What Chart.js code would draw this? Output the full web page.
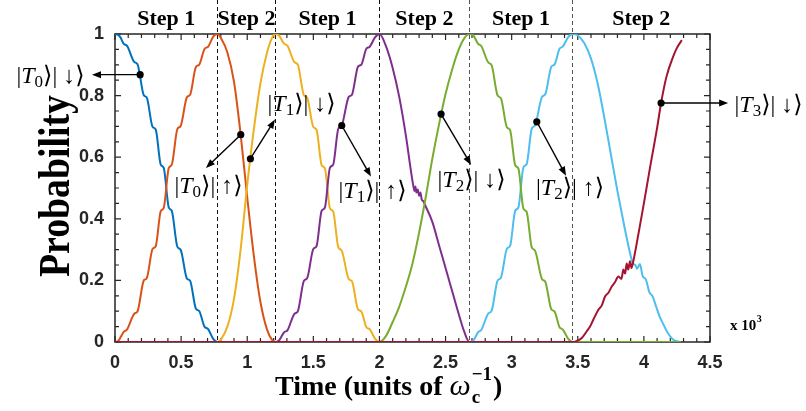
<!DOCTYPE html>
<html lang="en">
  <head>
    <meta charset="UTF-8" />
    <title>Probability vs time</title>
    <script src="https://cdn.jsdelivr.net/npm/chart.js"></script>
    <style>
      body { margin: 0; background: #fff; }
      #wrap { width: 806px; height: 411px; }
    </style>
  </head>
  <body>
    <div id="wrap"><canvas id="probChart" width="806" height="411"></canvas></div>

    <script>
      // step boundaries (x10^3 units of 1/omega_c) and their names
      var stepBounds = [0, 0.775, 1.213, 2.0, 2.68, 3.46, 4.5];
      var stepNames = ["Step 1", "Step 2", "Step 1", "Step 2", "Step 1", "Step 2"];

      // |T0>|down>
      var blueX = [0, 0.02, 0.04, 0.066, 0.09, 0.146, 0.17, 0.218, 0.24, 0.284, 0.308, 0.346, 0.368, 0.407, 0.429, 0.472, 0.496, 0.544, 0.568, 0.612, 0.636, 0.678, 0.702, 0.744, 0.775, 4.275];
      var blueY = [1.0, 0.998, 0.99, 0.968, 0.962, 0.909, 0.902, 0.801, 0.794, 0.699, 0.69, 0.576, 0.566, 0.436, 0.426, 0.309, 0.3, 0.206, 0.199, 0.108, 0.101, 0.049, 0.043, 0.009, 0.0, 0.0];

      // |T0>|up>
      var orangeX = [0, 0.025, 0.066, 0.09, 0.146, 0.17, 0.218, 0.24, 0.284, 0.308, 0.346, 0.368, 0.407, 0.429, 0.472, 0.496, 0.544, 0.568, 0.612, 0.636, 0.678, 0.702, 0.744, 0.775, 0.8, 0.85, 0.9, 0.95, 1.0, 1.05, 1.1, 1.15, 1.19, 1.213, 4.275];
      var orangeY = [0, 0.004, 0.033, 0.04, 0.092, 0.099, 0.2, 0.207, 0.302, 0.311, 0.425, 0.435, 0.565, 0.575, 0.692, 0.701, 0.795, 0.803, 0.893, 0.9, 0.952, 0.958, 0.992, 1.0, 0.988, 0.94, 0.845, 0.675, 0.47, 0.28, 0.13, 0.04, 0.005, 0, 0];

      // |T1>|down>
      var yellowX = [0, 0.775, 0.8, 0.85, 0.9, 0.95, 1.0, 1.05, 1.1, 1.15, 1.19, 1.213, 1.24, 1.28, 1.304, 1.358, 1.382, 1.429, 1.453, 1.5, 1.524, 1.563, 1.587, 1.626, 1.65, 1.689, 1.713, 1.768, 1.792, 1.838, 1.862, 1.901, 1.925, 1.968, 2.0, 4.275];
      var yellowY = [0, 0, 0.008, 0.05, 0.14, 0.3, 0.51, 0.69, 0.84, 0.94, 0.99, 1.0, 0.995, 0.968, 0.962, 0.908, 0.901, 0.801, 0.793, 0.698, 0.689, 0.574, 0.564, 0.434, 0.424, 0.307, 0.298, 0.204, 0.197, 0.106, 0.1, 0.048, 0.042, 0.01, 0, 0];

      // |T1>|up>
      var purpleX = [0, 1.213, 1.24, 1.28, 1.304, 1.358, 1.382, 1.429, 1.453, 1.5, 1.524, 1.563, 1.587, 1.626, 1.65, 1.689, 1.713, 1.768, 1.792, 1.838, 1.862, 1.901, 1.925, 1.968, 2.0, 2.05, 2.1, 2.15, 2.2, 2.24, 2.257, 2.265, 2.272, 2.28, 2.29, 2.3, 2.31, 2.32, 2.33, 2.35, 2.4, 2.45, 2.48, 2.52, 2.56, 2.6, 2.64, 2.68, 4.275];
      var purpleY = [0, 0, 0.005, 0.032, 0.038, 0.092, 0.099, 0.199, 0.207, 0.302, 0.311, 0.426, 0.436, 0.566, 0.576, 0.693, 0.702, 0.796, 0.803, 0.894, 0.9, 0.952, 0.958, 0.99, 1.0, 0.96, 0.89, 0.795, 0.67, 0.55, 0.505, 0.49, 0.505, 0.485, 0.495, 0.475, 0.485, 0.462, 0.458, 0.44, 0.39, 0.315, 0.27, 0.21, 0.15, 0.09, 0.035, 0, 0];

      // |T2>|down>
      var greenX = [0, 2.0, 2.05, 2.1, 2.15, 2.2, 2.25, 2.3, 2.35, 2.4, 2.45, 2.5, 2.55, 2.6, 2.64, 2.68, 2.71, 2.746, 2.77, 2.824, 2.848, 2.894, 2.918, 2.964, 2.988, 3.027, 3.051, 3.089, 3.113, 3.152, 3.176, 3.23, 3.254, 3.3, 3.324, 3.362, 3.386, 3.428, 3.46, 4.275];
      var greenY = [0, 0, 0.02, 0.065, 0.115, 0.18, 0.255, 0.355, 0.47, 0.595, 0.705, 0.805, 0.885, 0.95, 0.985, 1.0, 0.995, 0.968, 0.961, 0.907, 0.899, 0.8, 0.792, 0.697, 0.688, 0.574, 0.563, 0.433, 0.423, 0.307, 0.297, 0.204, 0.196, 0.106, 0.099, 0.048, 0.041, 0.01, 0, 0];

      // |T2>|up>
      var lblueX = [0, 2.68, 2.71, 2.746, 2.77, 2.824, 2.848, 2.894, 2.918, 2.964, 2.988, 3.027, 3.051, 3.089, 3.113, 3.152, 3.176, 3.23, 3.254, 3.3, 3.324, 3.362, 3.386, 3.428, 3.46, 3.5, 3.55, 3.6, 3.65, 3.7, 3.75, 3.8, 3.85, 3.9, 3.918, 3.935, 3.948, 3.97, 3.99, 4.016, 4.041, 4.066, 4.092, 4.117, 4.142, 4.18, 4.22, 4.275];
      var lblueY = [0, 0, 0.005, 0.032, 0.039, 0.093, 0.101, 0.2, 0.208, 0.303, 0.312, 0.426, 0.437, 0.567, 0.577, 0.693, 0.703, 0.796, 0.804, 0.894, 0.901, 0.952, 0.959, 0.99, 1.0, 0.995, 0.97, 0.92, 0.84, 0.73, 0.61, 0.49, 0.38, 0.28, 0.255, 0.25, 0.238, 0.253, 0.215, 0.202, 0.162, 0.148, 0.116, 0.085, 0.062, 0.03, 0.008, 0];

      // |T3>|down>
      var redX = [0, 3.46, 3.49, 3.53, 3.568, 3.593, 3.618, 3.656, 3.681, 3.706, 3.732, 3.757, 3.782, 3.807, 3.83, 3.845, 3.858, 3.87, 3.882, 3.895, 3.906, 3.918, 3.95, 4.0, 4.05, 4.1, 4.13, 4.17, 4.22, 4.25, 4.287];
      var redY = [0, 0, 0.003, 0.013, 0.035, 0.05, 0.073, 0.105, 0.118, 0.148, 0.16, 0.18, 0.195, 0.213, 0.205, 0.235, 0.222, 0.255, 0.235, 0.262, 0.24, 0.258, 0.33, 0.45, 0.575, 0.695, 0.776, 0.86, 0.925, 0.955, 0.98];

      // state labels: dot on the curve, arrow tip, text centre/baseline (data coords)
      var notes = [
        { sub: "0", arrow: "\u2193", dot: [0.19, 0.868], tip: [-0.174, 0.868], text: [-0.488, 0.841] },
        { sub: "0", arrow: "\u2191", dot: [0.951, 0.673], tip: [0.688, 0.565], text: [0.707, 0.485] },
        { sub: "1", arrow: "\u2193", dot: [1.024, 0.595], tip: [1.21, 0.722], text: [1.411, 0.751] },
        { sub: "1", arrow: "\u2191", dot: [1.715, 0.703], tip: [1.936, 0.537], text: [1.948, 0.468] },
        { sub: "2", arrow: "\u2193", dot: [2.466, 0.74], tip: [2.693, 0.575], text: [2.697, 0.504] },
        { sub: "2", arrow: "\u2191", dot: [3.19, 0.715], tip: [3.411, 0.54], text: [3.442, 0.478] },
        { sub: "3", arrow: "\u2193", dot: [4.13, 0.776], tip: [4.637, 0.776], text: [4.943, 0.747] },
      ];

      var AXIS = "#262626";
      var SERIF = "'Liberation Serif', 'DejaVu Serif', serif";

      function pts(xs, ys) {
        return xs.map((x, i) => ({ x: x, y: ys[i] }));
      }

      function curve(label, xs, ys, color, order) {
        return {
          label: label,
          data: pts(xs, ys),
          borderColor: color,
          backgroundColor: color,
          borderWidth: 2,
          showLine: true,
          pointRadius: 0,
          cubicInterpolationMode: "monotone",
          order: order,
        };
      }

      function drawKet(ctx, cx, by, sub, arrow) {
        var big = "24px " + SERIF;
        var parts = [
          { t: "|", f: big, dy: 0 },
          { t: "T", f: "italic 24px " + SERIF, dy: 0 },
          { t: sub, f: "17px " + SERIF, dy: 4 },
          { t: "\u27E9| ", f: big, dy: 0 },
          { t: arrow, f: big, dy: 0 },
          { t: "\u27E9", f: big, dy: 0 },
        ];
        var total = 0;
        parts.forEach((p) => {
          ctx.font = p.f;
          p.w = ctx.measureText(p.t).width;
          total += p.w;
        });
        var x = cx - total / 2;
        ctx.textAlign = "left";
        ctx.textBaseline = "alphabetic";
        parts.forEach((p) => {
          ctx.font = p.f;
          ctx.fillText(p.t, x, by + p.dy);
          x += p.w;
        });
      }

      var overlay = {
        id: "overlay",
        beforeDatasetsDraw(chart) {
          var ctx = chart.ctx;
          var a = chart.chartArea;
          var xs = chart.scales.x;
          var ys = chart.scales.y;
          ctx.save();

          // step boundaries
          ctx.lineWidth = 1;
          ctx.setLineDash([4, 3]);
          for (var i = 1; i < stepBounds.length - 1; i++) {
            var px = Math.round(xs.getPixelForValue(stepBounds[i])) + 0.5;
            ctx.strokeStyle = i < 4 ? "#111" : "#555";
            ctx.beginPath();
            ctx.moveTo(px, 0);
            ctx.lineTo(px, a.bottom);
            ctx.stroke();
          }
          ctx.setLineDash([]);

          // box
          ctx.strokeStyle = AXIS;
          ctx.lineWidth = 1.5;
          ctx.strokeRect(a.left, a.top, a.right - a.left, a.bottom - a.top);

          // inward ticks
          ctx.lineWidth = 1.2;
          ctx.beginPath();
          for (var k = 0; k <= 45; k++) {
            var tx = xs.getPixelForValue(k / 10);
            var len = k % 5 === 0 ? 6 : 4;
            ctx.moveTo(tx, a.bottom);
            ctx.lineTo(tx, a.bottom - len);
            ctx.moveTo(tx, a.top);
            ctx.lineTo(tx, a.top + len);
          }
          for (var j = 0; j <= 20; j++) {
            var ty = ys.getPixelForValue(j / 20);
            var ylen = j % 4 === 0 ? 6 : 4;
            ctx.moveTo(a.left, ty);
            ctx.lineTo(a.left + ylen, ty);
            ctx.moveTo(a.right, ty);
            ctx.lineTo(a.right - ylen, ty);
          }
          ctx.stroke();
          ctx.restore();
        },
        afterDraw(chart) {
          var ctx = chart.ctx;
          var a = chart.chartArea;
          var xs = chart.scales.x;
          var ys = chart.scales.y;
          ctx.save();
          ctx.fillStyle = "#000";
          ctx.strokeStyle = "#000";

          // step names
          ctx.font = "bold 22px " + SERIF;
          ctx.textAlign = "center";
          ctx.textBaseline = "alphabetic";
          for (var i = 0; i < stepNames.length; i++) {
            var mid = (stepBounds[i] + stepBounds[i + 1]) / 2;
            ctx.fillText(stepNames[i], xs.getPixelForValue(mid), 25);
          }

          // state labels with arrows
          notes.forEach((n) => {
            var dx = xs.getPixelForValue(n.dot[0]);
            var dy = ys.getPixelForValue(n.dot[1]);
            var tx = xs.getPixelForValue(n.tip[0]);
            var ty = ys.getPixelForValue(n.tip[1]);
            var ang = Math.atan2(ty - dy, tx - dx);
            var hl = 9;
            ctx.lineWidth = 1.4;
            ctx.beginPath();
            ctx.moveTo(dx, dy);
            ctx.lineTo(tx - Math.cos(ang) * hl * 0.8, ty - Math.sin(ang) * hl * 0.8);
            ctx.stroke();
            ctx.beginPath();
            ctx.moveTo(tx, ty);
            ctx.lineTo(tx - hl * Math.cos(ang) + 3.5 * Math.sin(ang), ty - hl * Math.sin(ang) - 3.5 * Math.cos(ang));
            ctx.lineTo(tx - hl * Math.cos(ang) - 3.5 * Math.sin(ang), ty - hl * Math.sin(ang) + 3.5 * Math.cos(ang));
            ctx.closePath();
            ctx.fill();
            ctx.beginPath();
            ctx.arc(dx, dy, 3.6, 0, Math.PI * 2);
            ctx.fill();
            drawKet(ctx, xs.getPixelForValue(n.text[0]), ys.getPixelForValue(n.text[1]), n.sub, n.arrow);
          });

          // y title
          ctx.save();
          ctx.translate(69, 186);
          ctx.rotate(-Math.PI / 2);
          ctx.font = "bold 44px " + SERIF;
          var pw = ctx.measureText("Probability").width;
          ctx.scale(182 / pw, 1);
          ctx.textAlign = "center";
          ctx.textBaseline = "alphabetic";
          ctx.fillText("Probability", 0, 0);
          ctx.restore();

          // x title
          ctx.textAlign = "left";
          ctx.textBaseline = "alphabetic";
          var x = 275;
          var base = 395;
          ctx.font = "bold 28px " + SERIF;
          ctx.fillText("Time (units of ", x, base);
          x += ctx.measureText("Time (units of ").width;
          ctx.font = "italic 30px " + SERIF;
          ctx.fillText("\u03C9", x, base);
          x += ctx.measureText("\u03C9").width + 1;
          ctx.font = "bold 19px " + SERIF;
          ctx.fillText("c", x, base + 8);
          ctx.fillText("\u22121", x, base - 15);
          x += ctx.measureText("\u22121").width + 1;
          ctx.font = "bold 28px " + SERIF;
          ctx.fillText(")", x, base);

          // x 10^3
          ctx.font = "bold 15px " + SERIF;
          ctx.fillText("x 10", a.right + 20, a.bottom - 12);
          var w10 = ctx.measureText("x 10").width;
          ctx.font = "bold 10px " + SERIF;
          ctx.fillText("3", a.right + 20 + w10 + 0.5, a.bottom - 20);
          ctx.restore();
        },
      };

      var tickFont = { family: "'Liberation Sans', Arial, sans-serif", size: 18, weight: "bold" };
      var fmt = (v) => String(Number(Number(v).toFixed(2)));

      var ctx = document.getElementById("probChart").getContext("2d");
      var probChart = new Chart(ctx, {
        type: "scatter",
        data: {
          datasets: [
            curve("|T3>|down>", redX, redY, "#A2142F", 0),
            curve("|T2>|down>", greenX, greenY, "#77AC30", 1),
            curve("|T2>|up>", lblueX, lblueY, "#4DBEEE", 2),
            curve("|T1>|up>", purpleX, purpleY, "#7E2F8E", 3),
            curve("|T1>|down>", yellowX, yellowY, "#EDB120", 4),
            curve("|T0>|up>", orangeX, orangeY, "#D95319", 5),
            curve("|T0>|down>", blueX, blueY, "#0072BD", 6),
          ],
        },
        options: {
          responsive: false,
          animation: false,
          devicePixelRatio: 1,
          layout: { padding: { top: 34, right: 96, left: 0, bottom: 0 } },
          plugins: { legend: { display: false }, tooltip: { enabled: false } },
          scales: {
            x: {
              type: "linear",
              min: 0,
              max: 4.5,
              afterFit: (s) => { s.height = 69; },
              grid: { display: false, drawTicks: false },
              border: { display: false },
              ticks: { stepSize: 0.5, padding: 10, color: AXIS, font: tickFont, callback: fmt, maxRotation: 0 },
            },
            y: {
              min: 0,
              max: 1,
              afterFit: (s) => { s.width = 115; },
              grid: { display: false, drawTicks: false },
              border: { display: false },
              ticks: { stepSize: 0.2, padding: 11, color: AXIS, font: tickFont, callback: fmt },
            },
          },
        },
        plugins: [overlay],
      });
    </script>
  </body>
</html>
